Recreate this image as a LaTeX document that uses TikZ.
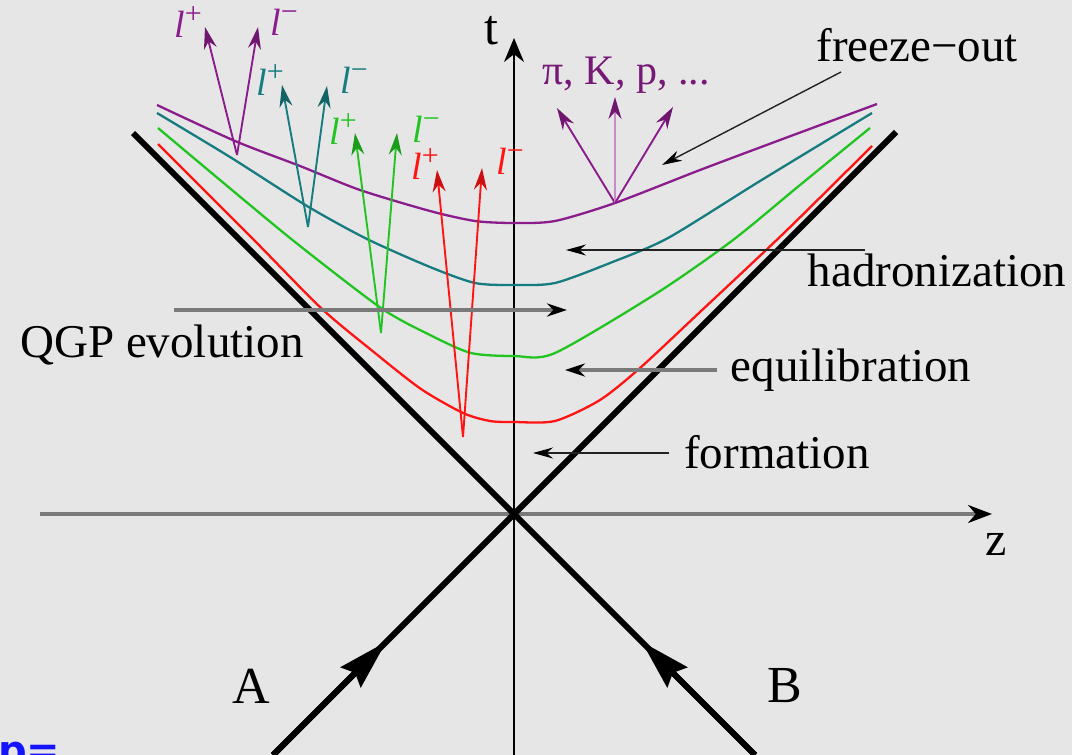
\documentclass[tikz,border=0pt]{standalone}
\usepackage{fontspec}
\setmainfont{Liberation Serif}
\newfontfamily\slidefont{DejaVu Sans}
\usetikzlibrary{arrows.meta}
\definecolor{cBack}{HTML}{E6E6E6}
\definecolor{cPurple}{HTML}{8B1C8B}
\definecolor{cTeal}{HTML}{167C80}
\definecolor{cGreen}{HTML}{22C422}
\definecolor{cRed}{HTML}{FF1414}
\definecolor{cAxis}{HTML}{7A7A7A}
\definecolor{cInk}{HTML}{222222}
\definecolor{cSlide}{HTML}{1414FF}
\tikzset{
  every picture/.style={line join=round},
  cone/.style={draw=black, line width=6pt},
  hyp/.style={line width=2.3pt},
  lep/.style={line width=1.9pt},
  ann/.style={draw=cInk, line width=1.4pt, -{Stealth[length=20pt,width=11pt,color=black]}},
  gann/.style={draw=cAxis, line width=3.5pt, -{Stealth[length=20pt,width=13pt,color=black]}},
  lbl/.style={font=\fontsize{47}{52}\selectfont, text=black, inner sep=0pt},
  lepl/.style={font=\fontsize{38}{42}\selectfont, inner sep=0pt},
}
\newcommand{\lepton}[1]{\textit{l}\raisebox{0.36em}{\fontsize{30}{30}\selectfont #1}}

\begin{document}
\begin{tikzpicture}[x=1pt,y=-1pt]
\useasboundingbox (0,0) rectangle (1072,755);
\begin{scope}
\clip (0,0) rectangle (1072,755);
\fill[cBack] (0,0) rectangle (1072,755);

% ---------------------------------------------------------------- axes and light cone
\coordinate (O) at (514,514);
\coordinate (zL) at (40,514);
\coordinate (zR) at (992,514);
\coordinate (tB) at (514,760);
\coordinate (tT) at (514,38);
\draw[draw=cAxis, line width=3.5pt, -{Stealth[length=24pt,width=18pt,color=black]}] (zL) -- (zR);
\draw[draw=black, line width=1.2pt, -{Stealth[length=24pt,width=20pt]}] (tB) -- (tT);
\node[lbl, font=\fontsize{50}{54}\selectfont] (t) at (491,31) {t};
\node[lbl, font=\fontsize{48}{52}\selectfont] (z) at (996,544) {z};

\coordinate (Abot) at (273,755);
\coordinate (Atop) at (896,132);
\coordinate (Bbot) at (755,755);
\coordinate (Btop) at (133,133);
\draw[cone] (Abot) -- (Atop);
\draw[cone] (Bbot) -- (Btop);
\path (Abot) -- (O) coordinate[pos=0.47] (Atip);
\path (Bbot) -- (O) coordinate[pos=0.47] (Btip);
\draw[line width=6pt, -{Stealth[length=50pt,width=28pt,inset=6pt]}] (Abot) -- (Atip);
\draw[line width=6pt, -{Stealth[length=50pt,width=28pt,inset=6pt]}] (Bbot) -- (Btip);
\node[lbl, font=\fontsize{52}{56}\selectfont] (A) at (251,686) {A};
\node[lbl, font=\fontsize{52}{56}\selectfont] (B) at (785,686) {B};

% ---------------------------------------------------------------- the four hypersurfaces
\draw[hyp, cRed] plot[smooth, tension=0.45] coordinates {
  (158,144) (252,238) (321,308) (375,353) (421,389) (463,413) (490,421) (514,422)
  (555,421) (600,400) (640,368) (700,312) (785,232) (872,146)};
\draw[hyp, cGreen] plot[smooth, tension=0.45] coordinates {
  (158,128) (220,180) (295,242) (381,308) (430,335) (471,353) (514,356)
  (555,353) (657,293) (733,240) (800,185) (870,128)};
\draw[hyp, cTeal] plot[smooth, tension=0.45] coordinates {
  (157,113) (230,157) (307,206) (367,239) (430,267) (475,283) (514,285)
  (555,283) (610,263) (668,238) (760,181) (872,113)};
\draw[hyp, cPurple] plot[smooth, tension=0.45] coordinates {
  (157,105) (235,141) (300,166) (360,190) (430,211) (475,221) (514,223)
  (555,221) (615,203) (700,170) (780,140) (877,104)};

% ---------------------------------------------------------------- dilepton pairs
\coordinate (vP) at (237,155); \coordinate (pP) at (205,27);  \coordinate (mP) at (258,27);
\coordinate (vT) at (308,227); \coordinate (pT) at (282,85);  \coordinate (mT) at (327,86);
\coordinate (vG) at (381,333); \coordinate (pG) at (355,133); \coordinate (mG) at (397,133);
\coordinate (vR) at (463,437); \coordinate (pR) at (437,170); \coordinate (mR) at (482,168);
\foreach \k/\col in {P/cPurple,T/cTeal,G/cGreen,R/cRed}{
  \draw[lep, draw=\col, -{Stealth[length=22pt,width=13pt,color=\col!80!black]}] (v\k) -- (p\k);
  \draw[lep, draw=\col, -{Stealth[length=22pt,width=13pt,color=\col!80!black]}] (v\k) -- (m\k);
}
\node[lepl, text=cPurple] (lpP) at (188,22)  {\lepton{+}};
\node[lepl, text=cPurple] (lmP) at (284,22)  {\lepton{−}};
\node[lepl, text=cTeal]   (lpT) at (270,80)  {\lepton{+}};
\node[lepl, text=cTeal]   (lmT) at (354,80)  {\lepton{−}};
\node[lepl, text=cGreen]  (lpG) at (343,129) {\lepton{+}};
\node[lepl, text=cGreen]  (lmG) at (426,129) {\lepton{−}};
\node[lepl, text=cRed]    (lpR) at (425,164) {\lepton{+}};
\node[lepl, text=cRed]    (lmR) at (510,161) {\lepton{−}};

% ---------------------------------------------------------------- hadrons at freeze-out
\coordinate (fo) at (615,203);
\coordinate (hL) at (557,108);
\coordinate (hM) at (615,97);
\coordinate (hR) at (673,107);
\draw[lep, draw=cPurple, -{Stealth[length=22pt,width=13pt,color=cPurple!80!black]}] (fo) -- (hL);
\draw[lep, draw=cPurple!50, -{Stealth[length=22pt,width=13pt,color=cPurple!80!black]}] (fo) -- (hM);
\draw[lep, draw=cPurple, -{Stealth[length=22pt,width=13pt,color=cPurple!80!black]}] (fo) -- (hR);
\node[lbl, text=cPurple!85!black, font=\fontsize{42}{46}\selectfont] (had) at (626,75) {π, K, p, ...};

% ---------------------------------------------------------------- stage labels
\node[lbl] (frz) at (917,45)  {freeze−out};
\node[lbl] (hdr) at (937,270) {hadronization};
\node[lbl] (equ) at (851,370) {equilibration};
\node[lbl] (frm) at (777,452) {formation};
\node[lbl] (qgp) at (162,345) {QGP evolution};

\coordinate (frzT) at (841,72);  \coordinate (frzH) at (662,165);
\coordinate (hdrT) at (865,250); \coordinate (hdrH) at (566,250);
\coordinate (qgpT) at (174,310); \coordinate (qgpH) at (567,310);
\coordinate (equT) at (717,370); \coordinate (equH) at (565,370);
\coordinate (frmT) at (669,453); \coordinate (frmH) at (533,453);
\draw[ann] (frzT) -- (frzH);
\draw[ann] (hdrT) -- (hdrH);
\draw[gann] (qgpT) -- (qgpH);
\draw[gann] (equT) -- (equH);
\draw[ann] (frmT) -- (frmH);

% ---------------------------------------------------------------- slide text cut at the edge
\node[anchor=base west, inner sep=0pt, text=cSlide, font=\slidefont\bfseries\fontsize{40}{44}\selectfont] (cut) at (-2,764) {p=};
\end{scope}
\end{tikzpicture}
\end{document}
